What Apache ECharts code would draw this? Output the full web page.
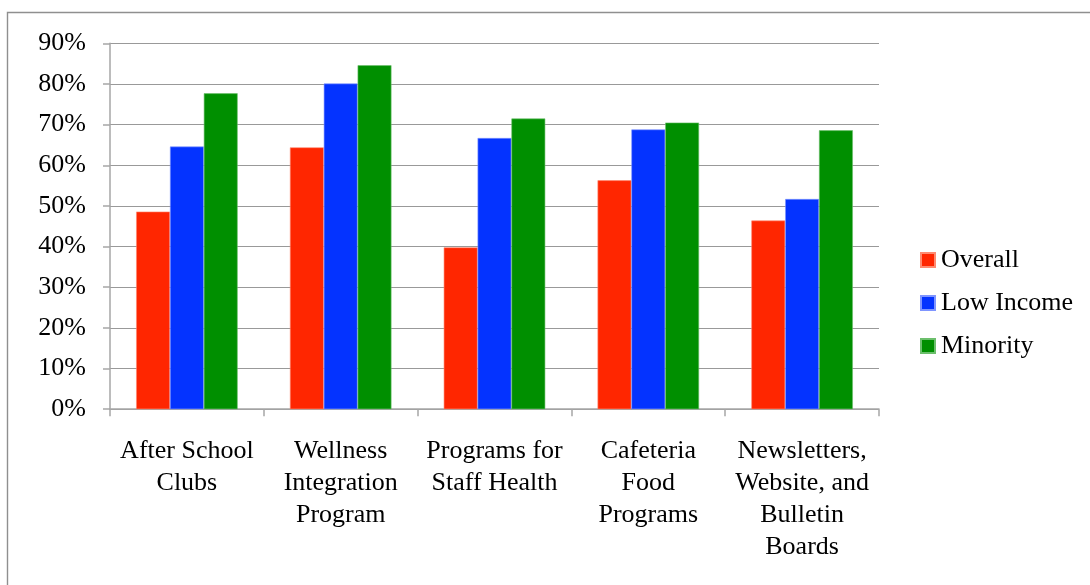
<!DOCTYPE html>
<html>
<head>
<meta charset="utf-8">
<script src="https://cdn.jsdelivr.net/npm/echarts@6/dist/echarts.min.js"></script>
<style>
  html, body { margin: 0; padding: 0; background: #fff; }
  #chart { width: 1090px; height: 585px; }
</style>
</head>
<body>
<div id="chart"></div>
<script>
// Wellness program categories (line breaks as set on the axis)
const categories = [
  'After School\nClubs',
  'Wellness\nIntegration\nProgram',
  'Programs for\nStaff Health',
  'Cafeteria\nFood\nPrograms',
  'Newsletters,\nWebsite, and\nBulletin\nBoards'
];

// Percent of respondents per group
const overall   = [48.6, 64.4, 39.8, 56.3, 46.4];
const lowIncome = [64.6, 80.1, 66.7, 68.8, 51.7];
const minority  = [77.7, 84.6, 71.5, 70.5, 68.6];

const seriesNames = ['Overall', 'Low Income', 'Minority'];
const yTicks = [0, 10, 20, 30, 40, 50, 60, 70, 80, 90];

const FONT = '"Liberation Serif", "Times New Roman", serif';
const colors = ['#ff2600', '#0433ff', '#008f00'];
const edges = ['#ff8a70', '#7f95ff', '#6cbf6c'];

const chart = echarts.init(document.getElementById('chart'), null, { renderer: 'canvas' });

function barSeries(name, data, i) {
  return {
    name: name,
    type: 'bar',
    data: data,
    barGap: '0%',
    barCategoryGap: '34%',
    itemStyle: { color: colors[i], borderColor: edges[i], borderWidth: 0.6 },
    emphasis: { disabled: true },
    animation: false
  };
}

chart.setOption({
  animation: false,
  color: colors,
  textStyle: { fontFamily: FONT, color: '#000' },
  graphic: [{
    type: 'rect',
    shape: { x: 7.5, y: 12.5, width: 1200, height: 700 },
    style: { fill: 'none', stroke: '#8f8f8f', lineWidth: 1.4 },
    silent: true
  }],
  grid: { left: 110, right: 211, top: 43.3, bottom: 175.8, containLabel: false },
  legend: {
    orient: 'vertical',
    left: 915,
    top: 238,
    itemWidth: 14,
    itemHeight: 14,
    itemGap: 9,
    icon: 'rect',
    data: seriesNames,
    selectedMode: false,
    textStyle: { fontFamily: FONT, fontSize: 26, color: '#000', lineHeight: 30, padding: [4, 0, 0, 1] }
  },
  xAxis: {
    type: 'category',
    data: categories,
    axisLine: { lineStyle: { color: '#a6a6a6', width: 1.5 } },
    axisTick: { show: true, length: 7, lineStyle: { color: '#a6a6a6', width: 1.5 } },
    axisLabel: {
      interval: 0,
      margin: 26,
      fontFamily: FONT,
      fontSize: 26,
      lineHeight: 32,
      color: '#000',
      align: 'center'
    },
    splitLine: { show: false }
  },
  yAxis: {
    type: 'value',
    min: yTicks[0],
    max: yTicks[yTicks.length - 1],
    interval: 10,
    axisLine: { show: true, lineStyle: { color: '#a6a6a6', width: 1.5 } },
    axisTick: { show: true, length: 7, lineStyle: { color: '#a6a6a6', width: 1.5 } },
    axisLabel: {
      margin: 24,
      fontFamily: FONT,
      fontSize: 26,
      color: '#000',
      formatter: '{value}%'
    },
    splitLine: { show: true, lineStyle: { color: '#999999', width: 1.2 } }
  },
  series: [
    barSeries(seriesNames[0], overall, 0),
    barSeries(seriesNames[1], lowIncome, 1),
    barSeries(seriesNames[2], minority, 2)
  ]
});
</script>
</body>
</html>
